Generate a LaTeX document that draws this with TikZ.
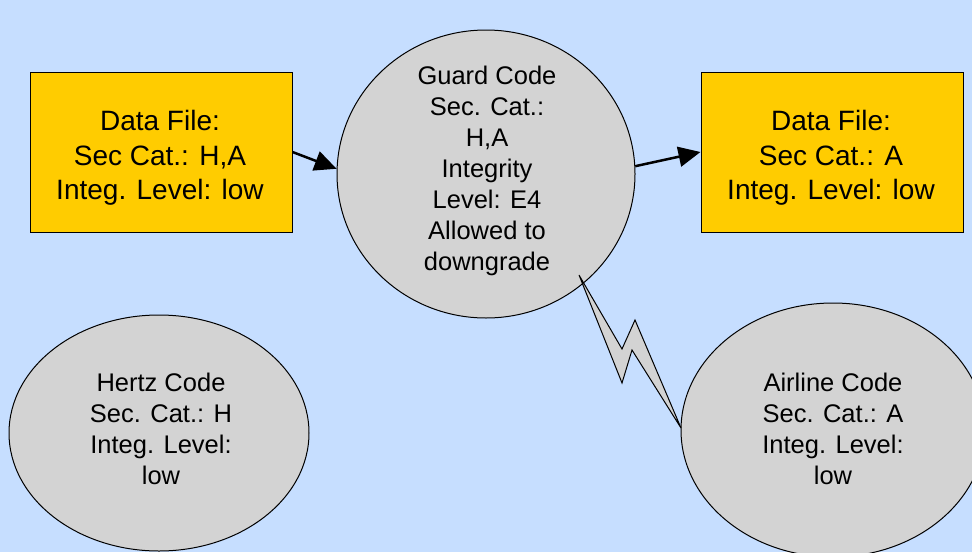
\documentclass[tikz,border=0pt]{standalone}
\usepackage{fontspec}
\setmainfont{Liberation Sans}
\usetikzlibrary{shapes.geometric,arrows.meta}
\definecolor{skyback}{RGB}{198,222,255}
\definecolor{filebox}{RGB}{255,204,0}
\definecolor{codefill}{RGB}{211,211,211}
\tikzset{
  filenode/.style={draw=black, line width=1pt, fill=filebox, rectangle,
    minimum width=262pt, minimum height=160pt, inner sep=0pt},
  codenode/.style={draw=black, line width=1pt, fill=codefill, ellipse, inner sep=0pt},
  filetext/.style={align=center, font=\fontsize{28}{34.5}\selectfont, inner sep=0pt},
  codetext/.style={align=center, font=\fontsize{25.5}{31}\selectfont, inner sep=0pt},
  flow/.style={line width=2.5pt, -{Triangle[length=22pt,width=20pt]}},
}
\begin{document}
\begin{tikzpicture}[x=1pt, y=-1pt]
  \path[use as bounding box, fill=skyback] (0,0) rectangle (972,552);
  \clip (0,0) rectangle (972,552);

  % data files
  \node[filenode] (lfile) at (161,152) {};
  \node[filetext] (lfiletext) at (160,158) {Data File:\\Sec Cat.: H,A\\Integ. Level: low};
  \node[filenode] (rfile) at (832,152) {};
  \node[filetext] (rfiletext) at (831,158) {Data File:\\Sec Cat.: A\\Integ. Level: low};

  % guard process
  \node[codenode, minimum width=298pt, minimum height=288pt] (guard) at (486,174) {};
  \node[codetext] (guardtext) at (487,171)
    {Guard Code\\Sec. Cat.:\\H,A\\Integrity\\Level: E4\\Allowed to\\downgrade};

  % untrusted processes
  \node[codenode, minimum width=300pt, minimum height=236pt] (hertz) at (159,433) {};
  \node[codetext] (hertztext) at (161,429) {Hertz Code\\Sec. Cat.: H\\Integ. Level:\\low};
  \node[codenode, minimum width=304pt, minimum height=254pt] (airline) at (833,430) {};
  \node[codetext] (airlinetext) at (833,429) {Airline Code\\Sec. Cat.: A\\Integ. Level:\\low};

  % information flow
  \draw[flow] (lfile.east) -- (guard.178);
  \draw[flow] (guard.3.5) -- (rfile.west);

  % lightning bolt between guard and airline code
  \draw[line width=1pt, fill=codefill, line join=miter]
    (579,275) -- (622,349) -- (635,320) -- (681,428) -- (632,350) -- (622,383) -- cycle;
\end{tikzpicture}
\end{document}
